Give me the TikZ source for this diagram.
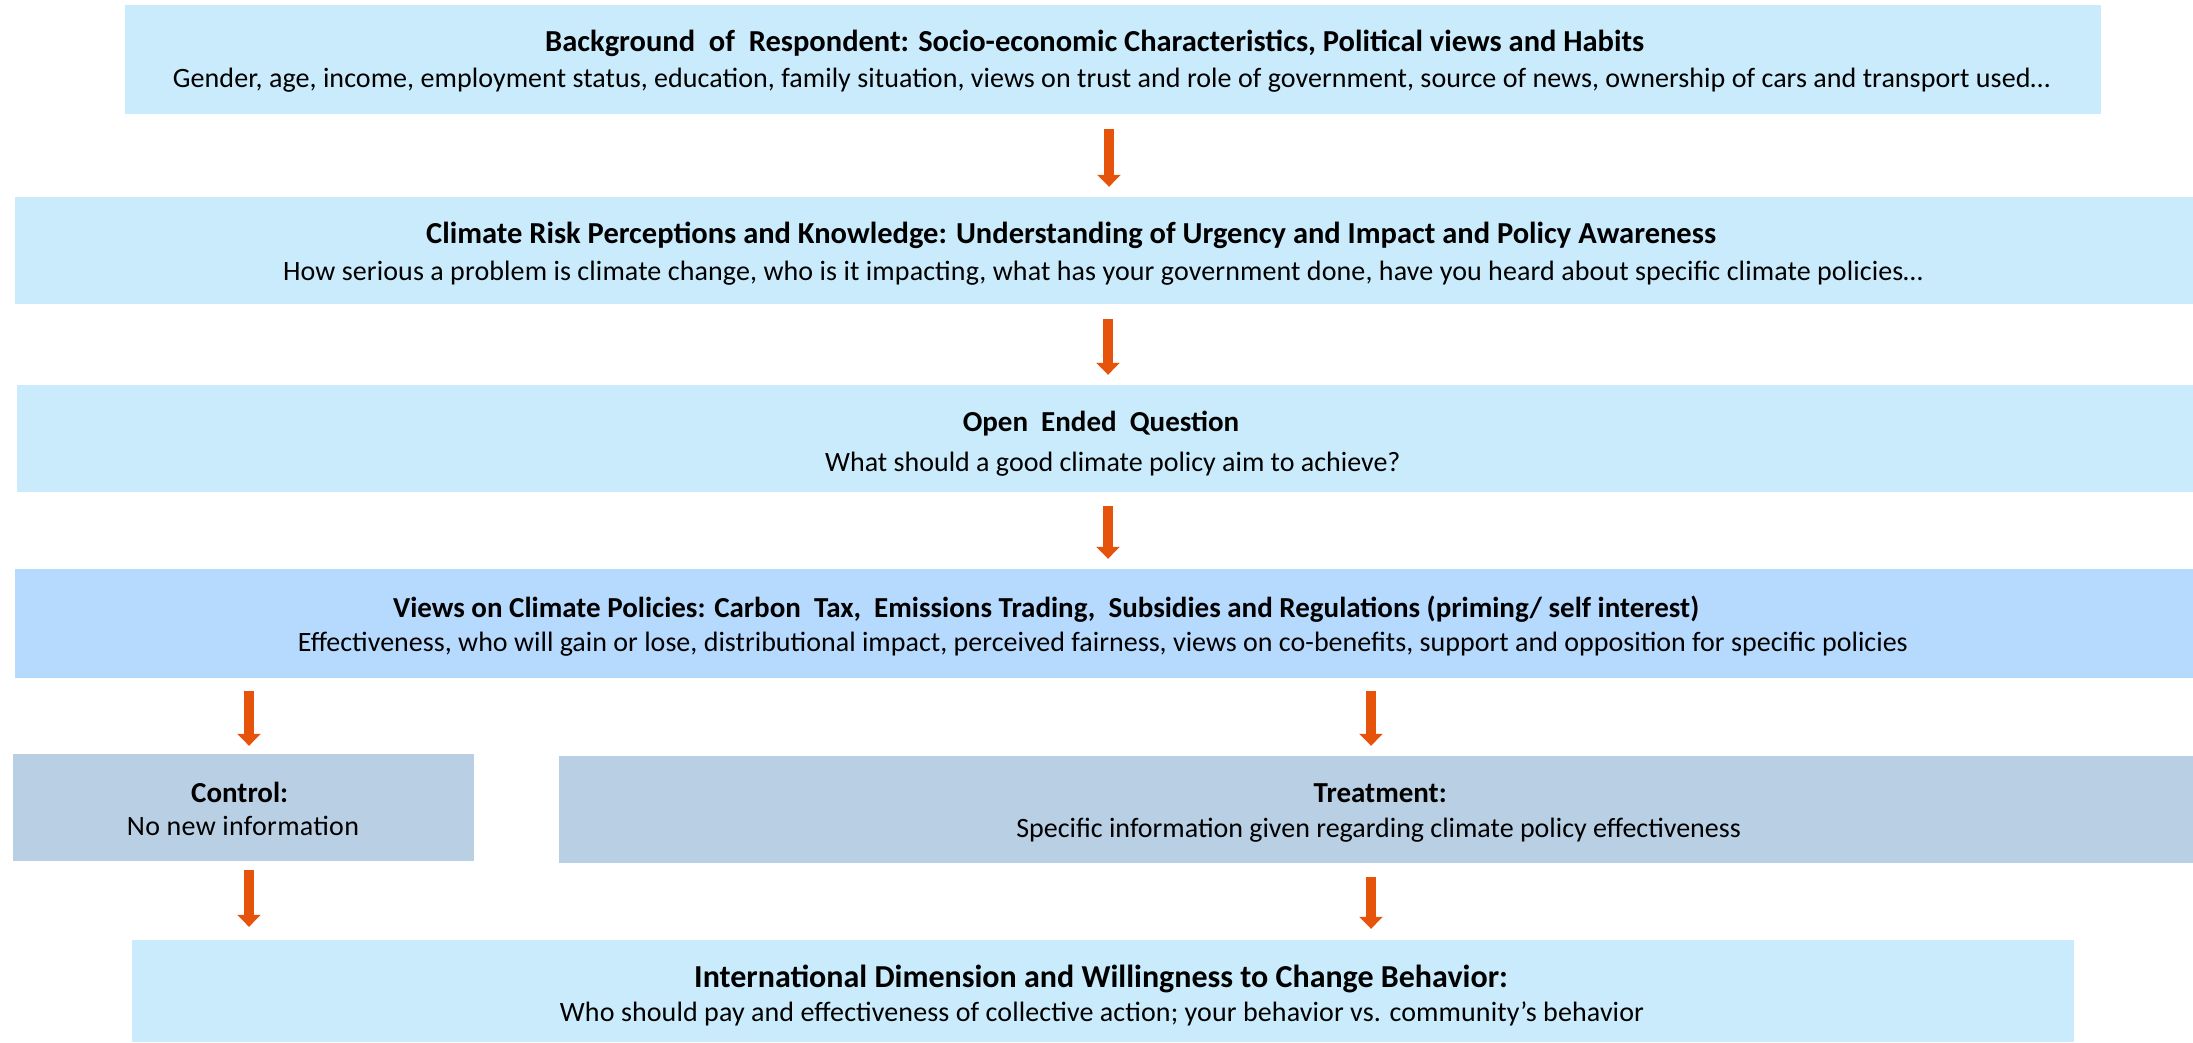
\documentclass[tikz,border=0pt]{standalone}
\usepackage{fontspec}
\usepackage{graphicx}
\setmainfont{Carlito}
\usetikzlibrary{arrows.meta}
\definecolor{cyanbox}{HTML}{C9EBFB}
\definecolor{bluebox}{HTML}{B6DAFE}
\definecolor{greybox}{HTML}{B8CFE4}
\definecolor{arrorange}{HTML}{E5540A}
\newlength\lsA
\newlength\lsB
\newcommand{\fitw}[2]{%
  \settowidth\lsA{#2}%
  \settowidth\lsB{\addfontfeature{LetterSpace=10}#2}%
  \pgfmathsetmacro\lsval{round(((#1-\lsA)/(\lsB-\lsA))*100)/10}%
  \resizebox{#1}{\height}{\addfontfeature{LetterSpace=\lsval}#2}}
\begin{document}
\begin{tikzpicture}[x=1pt,y=-1pt,
  box/.style={rectangle, inner sep=0pt, draw=none},
  ttl/.style={anchor=base west, inner sep=0pt, font=\fontsize{29}{34}\selectfont\bfseries},
  sub/.style={anchor=base, inner sep=0pt, font=\fontsize{28}{33}\selectfont},
  arr/.style={line width=10pt, draw=arrorange, -{Triangle[width=23pt,length=12pt]}}]
\useasboundingbox (0,0) rectangle (2193,1042);
% boxes
\node[box, fill=cyanbox, minimum width=1976pt, minimum height=109pt] (b1) at (1113,59.5) {};
\node[box, fill=cyanbox, minimum width=2178pt, minimum height=107pt] (b2) at (1104,250.5) {};
\node[box, fill=cyanbox, minimum width=2176pt, minimum height=107pt] (b3) at (1105,438.5) {};
\node[box, fill=bluebox, minimum width=2178pt, minimum height=109pt] (b4) at (1104,623.5) {};
\node[box, fill=greybox, minimum width=461pt, minimum height=107pt] (ctrl) at (243.5,807.5) {};
\node[box, fill=greybox, minimum width=1634pt, minimum height=107pt] (treat) at (1376,809.5) {};
\node[box, fill=cyanbox, minimum width=1942pt, minimum height=102pt] (last) at (1103,991) {};
% texts
\node[ttl, font=\fontsize{30.5}{35}\selectfont\bfseries] (b1t) at (545,51) {Background\ \ of\ \ Respondent: Socio-economic Characteristics, Political views and Habits};
\node[sub] (b1s) at (1111.5,87) {\fitw{1877pt}{Gender,\ age, income, employment status, education, family situation, views on trust and role of government,\ source of news, ownership of cars and transport used…}};
\node[ttl, font=\fontsize{30.5}{35}\selectfont\bfseries] (b2t) at (426,243) {Climate Risk Perceptions and Knowledge: Understanding of Urgency and Impact and Policy Awareness};
\node[sub] (b2s) at (1103,280) {\fitw{1640pt}{How serious a problem is climate change, who is it impacting, what has your government done,\ have you heard about specific climate policies…}};
\node[ttl, anchor=base] (b3t) at (1101,431) {Open\ \ Ended\ \ Question};
\node[sub, anchor=base west] (b3s) at (825,471) {What should a good climate policy aim to achieve?};
\node[ttl] (b4t) at (393,617) {Views on Climate Policies: Carbon\ \ Tax,\ \ Emissions Trading,\ \ Subsidies and Regulations (priming/ self interest)};
\node[sub] (b4s) at (1103,651) {\fitw{1610pt}{Effectiveness, who will gain or lose, distributional impact, perceived fairness, views on co-benefits, support and opposition for specific policies}};
\node[ttl] (ctlt) at (191,802) {Control:};
\node[sub] (ctls) at (243,835) {\fitw{232pt}{No new information}};
\node[ttl, anchor=base east] (trtt) at (1447,802) {Treatment:};
\node[sub, anchor=base east] (trts) at (1741,837) {Specific information given regarding climate policy effectiveness};
\node[ttl, font=\fontsize{32}{37}\selectfont\bfseries] (lastt) at (694,987) {International Dimension and Willingness to Change Behavior:};
\node[sub] (lasts) at (1102,1021) {\fitw{1084pt}{Who should pay and effectiveness of collective action; your behavior vs. community’s behavior}};
% arrows
\draw[arr] ([xshift=-4pt,yshift=-15pt]b1.south) -- ([xshift=5pt,yshift=10pt]b2.north);
\draw[arr] ([xshift=4pt,yshift=-15pt]b2.south) -- ([xshift=3pt,yshift=10pt]b3.north);
\draw[arr] ([xshift=3pt,yshift=-14pt]b3.south) -- ([xshift=4pt,yshift=10pt]b4.north);
\draw[arr] ([xshift=5.5pt,yshift=-13pt]ctrl.north |- b4.south) -- ([xshift=5.5pt,yshift=8pt]ctrl.north);
\draw[arr] ([xshift=-5pt,yshift=-13pt]treat.north |- b4.south) -- ([xshift=-5pt,yshift=10pt]treat.north);
\draw[arr] ([xshift=5.5pt,yshift=-9pt]ctrl.south) -- ([xshift=5.5pt,yshift=13pt]ctrl.south |- last.north);
\draw[arr] ([xshift=-5pt,yshift=-14pt]treat.south) -- ([xshift=-5pt,yshift=11pt]treat.south |- last.north);
\end{tikzpicture}
\end{document}
